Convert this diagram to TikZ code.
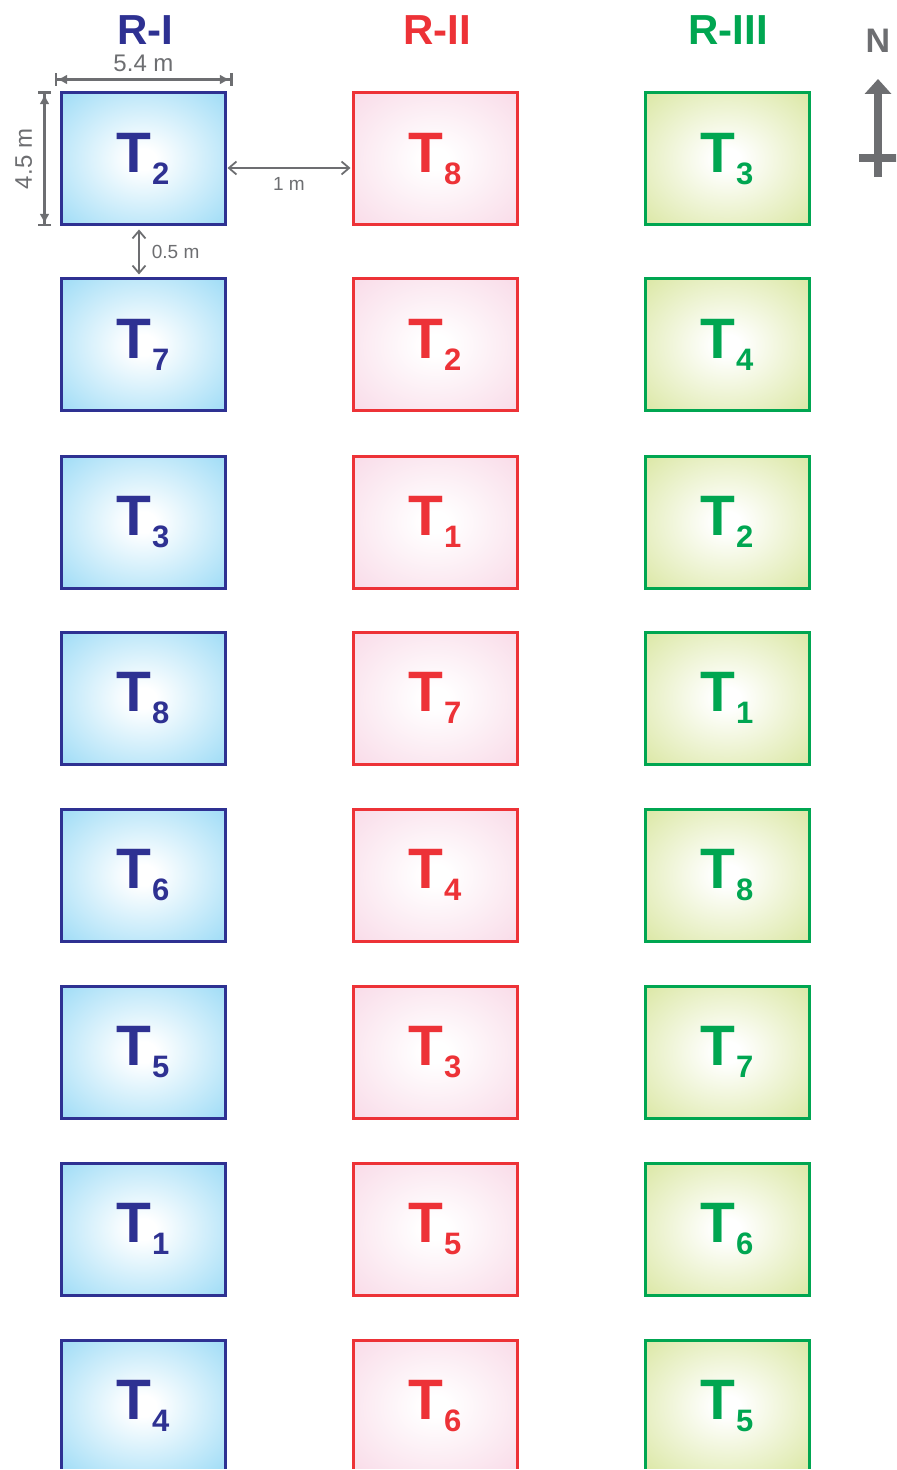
\documentclass[tikz,border=0pt]{standalone}
\usepackage{fontspec}
\setmainfont{Liberation Sans}
\usepackage{xcolor}
\usepackage{tikz}
\usetikzlibrary{positioning, arrows.meta, calc}
\definecolor{roneblue}{RGB}{46,49,146}
\definecolor{rtwored}{RGB}{237,50,55}
\definecolor{rthreegreen}{RGB}{0,166,81}
\definecolor{blueout}{RGB}{145,215,245}
\definecolor{bluecorner}{RGB}{128,206,242}
\definecolor{redout}{RGB}{248,214,229}
\definecolor{redcorner}{RGB}{246,205,222}
\definecolor{greenout}{RGB}{214,228,152}
\definecolor{greencorner}{RGB}{204,222,134}
\definecolor{dimgray}{RGB}{109,110,113}
\pgfdeclareradialshading{blueglow}{\pgfpoint{0bp}{0bp}}{color(0bp)=(white); color(4bp)=(white); color(40bp)=(blueout); color(70bp)=(bluecorner)}
\pgfdeclareradialshading{redglow}{\pgfpoint{0bp}{0bp}}{color(0bp)=(white); color(4bp)=(white); color(40bp)=(redout); color(70bp)=(redcorner)}
\pgfdeclareradialshading{greenglow}{\pgfpoint{0bp}{0bp}}{color(0bp)=(white); color(4bp)=(white); color(40bp)=(greenout); color(70bp)=(greencorner)}
\newcommand{\plt}[1]{T\kern0.3pt\raisebox{-6pt}{\fontsize{15.5}{16}\selectfont #1}}
\tikzset{
  plotbox/.style={draw, line width=1.5pt, minimum width=82pt, minimum height=66pt, inner sep=0pt, font=\fontsize{28.5}{30}\selectfont\bfseries},
  ronebox/.style={plotbox, draw=roneblue, text=roneblue, shade, shading=blueglow},
  rtwobox/.style={plotbox, draw=rtwored, text=rtwored, shade, shading=redglow},
  rthreebox/.style={plotbox, draw=rthreegreen, text=rthreegreen, shade, shading=greenglow},
  hdr/.style={font=\fontsize{21}{24}\selectfont\bfseries, anchor=base},
  dimlbl/.style={font=\fontsize{12}{14}\selectfont, text=dimgray, inner sep=0pt},
  gaplbl/.style={font=\fontsize{9.5}{11}\selectfont, text=dimgray, inner sep=0pt},
  dimarr/.style={draw=dimgray, line width=1.3pt, {Bar[width=6.5pt]Latex[length=5pt,width=5pt]}-{Latex[length=5pt,width=5pt]Bar[width=6.5pt]}},
  gaparr/.style={draw=dimgray, line width=0.9pt, {Straight Barb[length=3.8pt,width=6.5pt]}-{Straight Barb[length=3.8pt,width=6.5pt]}},
  northarr/.style={draw=dimgray, line width=4pt, -{Triangle[length=7.5pt,width=13pt]}},
}

\begin{document}
\begin{tikzpicture}[x=0.5pt, y=-0.5pt]
  \useasboundingbox (0,0) rectangle (896,1470);
  \clip (0,0) rectangle (896,1468);

  % replicate headers
  \node[hdr, text=roneblue] (rI) at (145,45) {R-I};
  \node[hdr, text=rtwored] (rII) at (437,45) {R-II};
  \node[hdr, text=rthreegreen] (rIII) at (728,45) {R-III};

  % R-I
  \node[ronebox] (r1p1) at (143,159) {\plt{2}};
  \node[ronebox] (r1p2) at (143,345) {\plt{7}};
  \node[ronebox] (r1p3) at (143,522) {\plt{3}};
  \node[ronebox] (r1p4) at (143,698) {\plt{8}};
  \node[ronebox] (r1p5) at (143,875) {\plt{6}};
  \node[ronebox] (r1p6) at (143,1052) {\plt{5}};
  \node[ronebox] (r1p7) at (143,1229) {\plt{1}};
  \node[ronebox] (r1p8) at (143,1406) {\plt{4}};

  % R-II
  \node[rtwobox] (r2p1) at (435,159) {\plt{8}};
  \node[rtwobox] (r2p2) at (435,345) {\plt{2}};
  \node[rtwobox] (r2p3) at (435,522) {\plt{1}};
  \node[rtwobox] (r2p4) at (435,698) {\plt{7}};
  \node[rtwobox] (r2p5) at (435,875) {\plt{4}};
  \node[rtwobox] (r2p6) at (435,1052) {\plt{3}};
  \node[rtwobox] (r2p7) at (435,1229) {\plt{5}};
  \node[rtwobox] (r2p8) at (435,1406) {\plt{6}};

  % R-III
  \node[rthreebox] (r3p1) at (727,159) {\plt{3}};
  \node[rthreebox] (r3p2) at (727,345) {\plt{4}};
  \node[rthreebox] (r3p3) at (727,522) {\plt{2}};
  \node[rthreebox] (r3p4) at (727,698) {\plt{1}};
  \node[rthreebox] (r3p5) at (727,875) {\plt{8}};
  \node[rthreebox] (r3p6) at (727,1052) {\plt{7}};
  \node[rthreebox] (r3p7) at (727,1229) {\plt{6}};
  \node[rthreebox] (r3p8) at (727,1406) {\plt{5}};

  % plot dimensions
  \draw[dimarr] ([xshift=-2.5pt,yshift=6pt]r1p1.north west) -- ([xshift=3pt,yshift=6pt]r1p1.north east)
    node[dimlbl, midway, above=3pt] {5.4 m};
  \draw[dimarr] ([xshift=-7.5pt]r1p1.south west) -- ([xshift=-7.5pt]r1p1.north west)
    node[dimlbl, midway, sloped, above=5.5pt] {4.5 m};
  \draw[gaparr, shorten <=0.5pt, shorten >=0.5pt] ([yshift=-4.5pt]r1p1.east) -- ([yshift=-4.5pt]r2p1.west)
    node[gaplbl, midway, below=4.5pt] {1 m};
  \draw[gaparr, shorten <=1.5pt, shorten >=1.5pt] ([xshift=-2pt]r1p1.south) -- ([xshift=-2pt]r1p2.north)
    node[gaplbl, midway, right=6pt] {0.5 m};

  % north arrow
  \node[font=\fontsize{17}{18}\selectfont\bfseries, text=dimgray, anchor=base, inner sep=0pt] (nlbl) at (878,53) {N};
  \coordinate (nfoot) at (878,177);
  \coordinate (ntip) at (878,79);
  \coordinate (nbarw) at (859,158);
  \coordinate (nbare) at (897,158);
  \draw[northarr] (nfoot) -- (ntip);
  \draw[draw=dimgray, line width=4pt] (nbarw) -- (nbare);
\end{tikzpicture}
\end{document}
